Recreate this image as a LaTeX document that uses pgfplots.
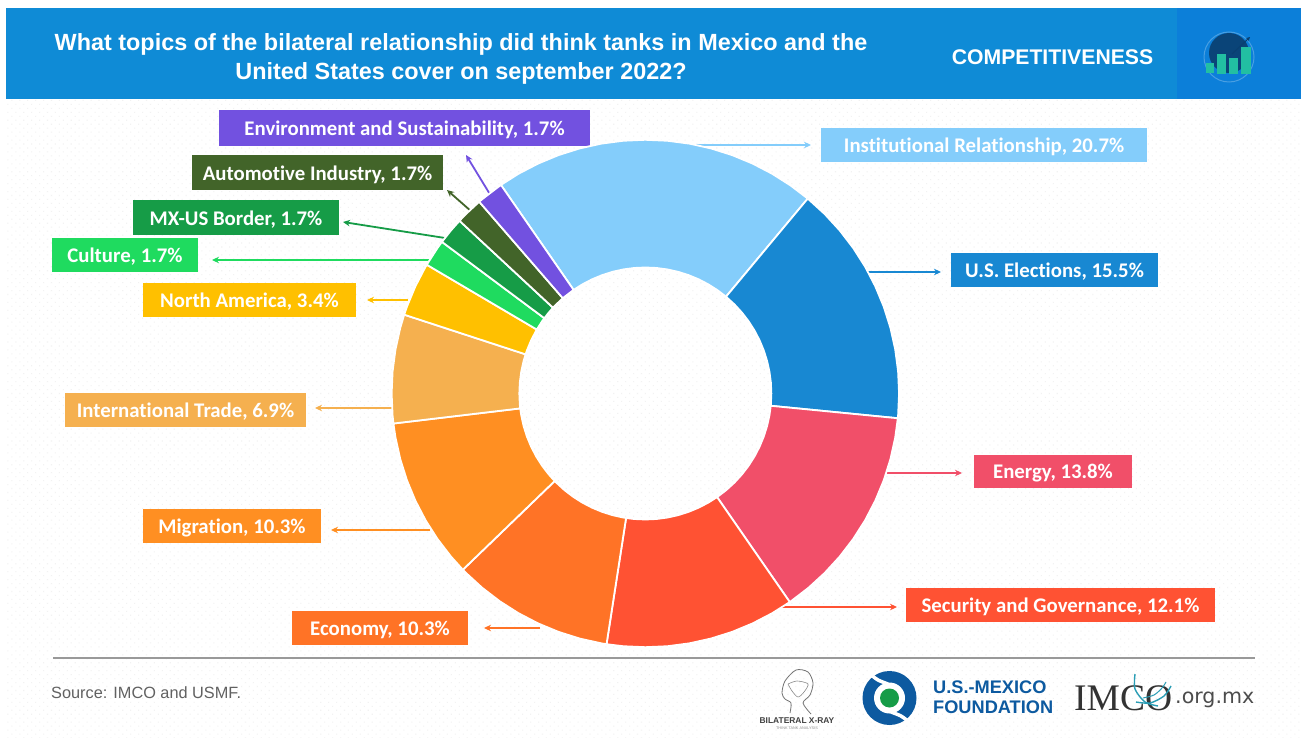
\documentclass[border=0pt]{standalone}
\usepackage{fontspec}
\setmainfont{Liberation Sans}
\newfontfamily\lab{Carlito}[BoldFont=Carlito Bold,Ligatures=NoCommon]
\newfontfamily\ser{Liberation Serif}
\newfontfamily\dej{DejaVu Sans}
\usepackage{pgfplots}
\pgfplotsset{compat=1.18}
\usetikzlibrary{calc,arrows.meta,patterns.meta}

\definecolor{cInst}{HTML}{84CDFB}
\definecolor{cUS}{HTML}{1888D2}
\definecolor{cEner}{HTML}{F14F69}
\definecolor{cSec}{HTML}{FF5233}
\definecolor{cEcon}{HTML}{FF7326}
\definecolor{cMig}{HTML}{FF8F22}
\definecolor{cTrade}{HTML}{F5B04F}
\definecolor{cNA}{HTML}{FFC000}
\definecolor{cCult}{HTML}{1FDB5F}
\definecolor{cBord}{HTML}{169C47}
\definecolor{cAuto}{HTML}{426429}
\definecolor{cEnv}{HTML}{7251E0}
\definecolor{banner}{HTML}{0F8BD6}
\definecolor{bannerdk}{HTML}{0C7FD9}
\definecolor{usmf}{HTML}{0D5AA0}
\definecolor{teal}{HTML}{22BFA2}
\definecolor{imco}{HTML}{2A9DB5}

% box: x0,x1,y0,y1,colour,text
\newcommand{\tag}[6]{%
  \fill[#5] (#1,#3) rectangle (#2,#4);
  \node[text=white,inner sep=0pt,yshift=-2pt,font=\lab\bfseries\fontsize{20.8}{21}\selectfont] at ($(#1,#3)!.5!(#2,#4)$) {#6};
}
% leader: colour,x0,y0,x1,y1
\newcommand{\lead}[5]{%
  \draw[#1,line width=1.8pt,-{Stealth[length=7pt,width=6.5pt]}] (#2,#3) -- (#4,#5);
}

\begin{document}
\begin{tikzpicture}
% page in pixel coordinates
\begin{axis}[
  at={(0,0)},anchor=south west,
  width=1301pt,height=738pt,scale only axis,
  xmin=0,xmax=1301,ymin=0,ymax=738,y dir=reverse,
  hide axis,clip=false]
\fill[white] (0,0) rectangle (1301,738);
\fill[pattern={Dots[distance=5.6pt,angle=45,radius=.75pt]},pattern color=black!5] (6,99) rectangle (1301,738);
\fill[banner] (6,8) rectangle (1177,99);
\fill[bannerdk] (1177,8) rectangle (1301,99);

\node[text=white,align=center,inner sep=0pt,font=\bfseries\fontsize{23.4}{29}\selectfont] at (461,59)
  {What topics of the bilateral relationship did think tanks in Mexico and the\\United States cover on september 2022?};
\node[text=white,inner sep=0pt,font=\bfseries\fontsize{21.2}{24}\selectfont] at (1052.5,57) {COMPETITIVENESS};

% banner icon
\draw[white!25!bannerdk,line width=1pt] (1229,57) circle[radius=25];
\fill[black!25!usmf] (1229,53) circle[radius=20];
\fill[teal] (1206,63) rectangle (1214,73);
\fill[teal] (1217,54) rectangle (1226,74);
\fill[teal] (1229,58) rectangle (1238,74);
\fill[teal] (1241,47) rectangle (1251,74);
\draw[black!30!usmf,line width=1pt,-{Stealth[length=4pt,width=4pt]}] (1232,54) -- (1250,37);

% leaders
\lead{cEnv}{491}{196}{466}{155}
\lead{cAuto}{472}{212}{447}{190}
\lead{cBord}{445}{238}{343}{222}
\lead{cCult}{431}{260}{212}{260}
\lead{cNA}{408}{300}{367}{300}
\lead{cTrade}{394}{408}{315}{408}
\lead{cMig}{430}{530}{331}{530}
\lead{cEcon}{540}{628}{484}{628}
\lead{cInst}{690}{145}{811}{145}
\lead{cUS}{867}{272}{941}{272}
\lead{cEner}{885}{473}{962}{473}
\lead{cSec}{780}{607}{897}{607}

% label boxes
\tag{219}{590}{110}{146}{cEnv}{Environment and Sustainability, 1.7\%}
\tag{192}{443}{155}{190}{cAuto}{Automotive Industry, 1.7\%}
\tag{133}{339}{200}{235}{cBord}{MX-US Border, 1.7\%}
\tag{52}{198}{238}{272}{cCult}{Culture, 1.7\%}
\tag{143}{356}{283}{317}{cNA}{North America, 3.4\%}
\tag{65}{306}{393}{427}{cTrade}{International Trade, 6.9\%}
\tag{143}{321}{509}{543}{cMig}{Migration, 10.3\%}
\tag{292}{468}{611}{645}{cEcon}{Economy, 10.3\%}
\tag{821}{1147}{128}{162}{cInst}{Institutional Relationship, 20.7\%}
\tag{951}{1158}{253}{287}{cUS}{U.S. Elections, 15.5\%}
\tag{974}{1132}{455}{488}{cEner}{Energy, 13.8\%}
\tag{906}{1215}{588}{622}{cSec}{Security and Governance, 12.1\%}

% footer
\draw[black!40,line width=1.5pt] (53,658) -- (1255,658);
\node[anchor=west,inner sep=0pt,text=black!62,font=\fontsize{16.3}{18}\selectfont] at (51,693) {Source: IMCO and USMF.};

% bilateral x-ray logo
\addplot[smooth,black!55,line width=.8pt] coordinates {(790,713)(791,703)(785,699)(782,693)(785,681)(796,670)(808,672)(813,683)(810,695)(803,703)(811,714)};
\addplot[smooth,black!45,line width=.6pt] coordinates {(788,684)(797,681)(808,684)(804,692)(798,697)(792,691)(788,684)};
\node[inner sep=0pt,text=black!75,font=\bfseries\fontsize{8.4}{9}\selectfont] at (797,721) {BILATERAL X-RAY};
\node[inner sep=0pt,text=black!45,font=\fontsize{3.8}{4}\selectfont] at (797,728) {THINK TANK ANALYSIS};

% usmf logo
\fill[usmf] (889.5,698) circle[radius=27];
\fill[white] (889.5,698) circle[radius=15.5];
\addplot[smooth,white,line width=3.5pt] coordinates {(870,674)(878,680)(888,684)};
\addplot[smooth,white,line width=3.5pt] coordinates {(909,722)(901,716)(891,712)};
\fill[cBord] (889.5,698) circle[radius=9.5];
\node[anchor=west,inner sep=0pt,text=usmf,align=left,font=\bfseries\fontsize{18.2}{20}\selectfont] at (933,697.5) {U.S.-MEXICO\\FOUNDATION};

% imco logo
\node[anchor=west,inner sep=0pt,text=black!80,font=\ser\fontsize{37.5}{38}\selectfont] at (1074,698) {IMCO};
\addplot[smooth,imco,line width=1.4pt] coordinates {(1135,674)(1135,689)(1145,702)(1158,706)};
\addplot[smooth,imco,line width=1.4pt] coordinates {(1136,702)(1150,703)(1164,696)(1171,686)};
\addplot[smooth,imco,line width=1pt] coordinates {(1143,698)(1154,695)(1162,688)(1166,682)};
\node[anchor=west,inner sep=0pt,text=black!70,font=\dej\fontsize{20.6}{21}\selectfont] at (1175,699.5) {.org.mx};
\end{axis}

% donut: origin at its centre, points as (angle, radius)
\begin{axis}[
  at={(0,0)},anchor=south west,
  width=1301pt,height=738pt,scale only axis,
  xmin=-645.3,xmax=655.7,ymin=-344.5,ymax=393.5,
  hide axis,clip=false,
  every axis plot/.append style={data cs=polar,draw=white,line width=1.8pt,line join=round}]
% Institutional Relationship, 20.7
\addplot[fill=cInst] coordinates {(124.7,253.7)(120,253.7)(115,253.7)(110,253.7)(105,253.7)(100,253.7)(95,253.7)(90,253.7)(85,253.7)(80,253.7)(75,253.7)(70,253.7)(65,253.7)(60,253.7)(55,253.7)(50.2,253.7)
 (50.2,126)(55,126)(60,126)(65,126)(70,126)(75,126)(80,126)(85,126)(90,126)(95,126)(100,126)(105,126)(110,126)(115,126)(120,126)(124.7,126)(124.7,253.7)};
% U.S. Elections, 15.5
\addplot[fill=cUS] coordinates {(50.2,253.7)(45,253.7)(40,253.7)(35,253.7)(30,253.7)(25,253.7)(20,253.7)(15,253.7)(10,253.7)(5,253.7)(0,253.7)(-5,253.7)(-5.6,253.7)
 (-5.6,126)(-5,126)(0,126)(5,126)(10,126)(15,126)(20,126)(25,126)(30,126)(35,126)(40,126)(45,126)(50.2,126)(50.2,253.7)};
% Energy, 13.8
\addplot[fill=cEner] coordinates {(-5.6,253.7)(-10,253.7)(-15,253.7)(-20,253.7)(-25,253.7)(-30,253.7)(-35,253.7)(-40,253.7)(-45,253.7)(-50,253.7)(-55,253.7)(-55.3,253.7)
 (-55.3,126)(-55,126)(-50,126)(-45,126)(-40,126)(-35,126)(-30,126)(-25,126)(-20,126)(-15,126)(-10,126)(-5.6,126)(-5.6,253.7)};
% Security and Governance, 12.1
\addplot[fill=cSec] coordinates {(-55.3,253.7)(-60,253.7)(-65,253.7)(-70,253.7)(-75,253.7)(-80,253.7)(-85,253.7)(-90,253.7)(-95,253.7)(-98.8,253.7)
 (-98.8,126)(-95,126)(-90,126)(-85,126)(-80,126)(-75,126)(-70,126)(-65,126)(-60,126)(-55.3,126)(-55.3,253.7)};
% Economy, 10.3
\addplot[fill=cEcon] coordinates {(-98.8,253.7)(-100,253.7)(-105,253.7)(-110,253.7)(-115,253.7)(-120,253.7)(-125,253.7)(-130,253.7)(-135,253.7)(-136,253.7)
 (-136,126)(-135,126)(-130,126)(-125,126)(-120,126)(-115,126)(-110,126)(-105,126)(-100,126)(-98.8,126)(-98.8,253.7)};
% Migration, 10.3
\addplot[fill=cMig] coordinates {(-136,253.7)(-140,253.7)(-145,253.7)(-150,253.7)(-155,253.7)(-160,253.7)(-165,253.7)(-170,253.7)(-173.2,253.7)
 (-173.2,126)(-170,126)(-165,126)(-160,126)(-155,126)(-150,126)(-145,126)(-140,126)(-136,126)(-136,253.7)};
% International Trade, 6.9
\addplot[fill=cTrade] coordinates {(-173.2,253.7)(-175,253.7)(-180,253.7)(-185,253.7)(-190,253.7)(-195,253.7)(-198.1,253.7)
 (-198.1,126)(-195,126)(-190,126)(-185,126)(-180,126)(-175,126)(-173.2,126)(-173.2,253.7)};
% North America, 3.4
\addplot[fill=cNA] coordinates {(-198.1,253.7)(-200,253.7)(-205,253.7)(-210,253.7)(-210.5,253.7)
 (-210.5,126)(-210,126)(-205,126)(-200,126)(-198.1,126)(-198.1,253.7)};
% Culture, 1.7
\addplot[fill=cCult] coordinates {(-210.5,253.7)(-215,253.7)(-216.7,253.7)(-216.7,126)(-215,126)(-210.5,126)(-210.5,253.7)};
% MX-US Border, 1.7
\addplot[fill=cBord] coordinates {(-216.7,253.7)(-220,253.7)(-222.9,253.7)(-222.9,126)(-220,126)(-216.7,126)(-216.7,253.7)};
% Automotive Industry, 1.7
\addplot[fill=cAuto] coordinates {(-222.9,253.7)(-225,253.7)(-229.1,253.7)(-229.1,126)(-225,126)(-222.9,126)(-222.9,253.7)};
% Environment and Sustainability, 1.7
\addplot[fill=cEnv] coordinates {(-229.1,253.7)(-230,253.7)(-235.3,253.7)(-235.3,126)(-230,126)(-229.1,126)(-229.1,253.7)};
\end{axis}
\end{tikzpicture}
\end{document}
